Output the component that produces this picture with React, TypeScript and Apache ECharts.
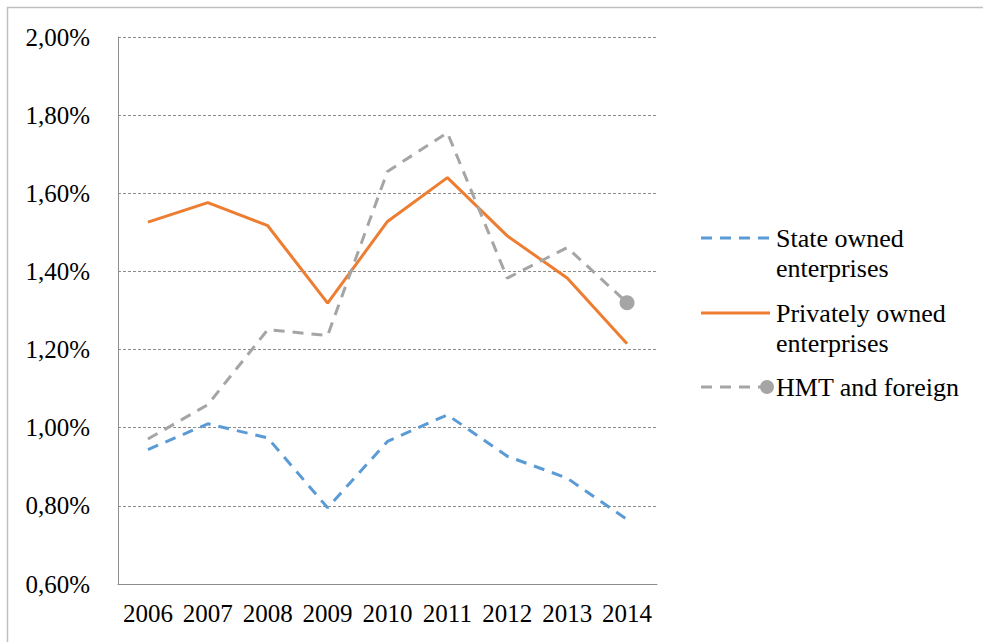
import React, { useEffect, useRef } from "react";
import * as echarts from "echarts";

const years = ["2006", "2007", "2008", "2009", "2010", "2011", "2012", "2013", "2014"];
const stateOwned = [0.944, 1.01, 0.974, 0.795, 0.965, 1.033, 0.927, 0.871, 0.765];
const privatelyOwned = [1.526, 1.576, 1.517, 1.319, 1.528, 1.64, 1.491, 1.383, 1.215];
const hmtForeign = [0.971, 1.059, 1.251, 1.236, 1.656, 1.755, 1.383, 1.461, 1.32];
const seriesNames = ["State owned\nenterprises", "Privately owned\nenterprises", "HMT and foreign"];

const BLUE = "#5B9BD5";
const ORANGE = "#ED7D31";
const GRAY = "#A5A5A5";
const FONT = "'Liberation Serif', 'Times New Roman', serif";
const FS = 25;
const LEGEND_FS = 26;

export default function App() {
  const ref = useRef<HTMLDivElement>(null);
  useEffect(() => {
    if (!ref.current) return;
    const chart = echarts.init(ref.current, null, { renderer: "svg" });
    const legendY = [238, 313, 387];
    const legendColors = [BLUE, ORANGE, GRAY];
    const legendGraphics: any[] = [];
    seriesNames.forEach((name, i) => {
      legendGraphics.push({
        type: "line",
        shape: { x1: 701, y1: legendY[i], x2: i === 2 ? 762 : 770, y2: legendY[i] },
        style: {
          stroke: legendColors[i],
          lineWidth: 3,
          lineDash: i === 1 ? null : [11, 8],
        },
      });
      if (i === 2) {
        legendGraphics.push({
          type: "circle",
          shape: { cx: 767, cy: legendY[i], r: 7 },
          style: { fill: GRAY },
        });
      }
      legendGraphics.push({
        type: "text",
        x: 776,
        y: legendY[i] - 15,
        style: {
          text: name,
          font: `${LEGEND_FS}px ${FONT}`,
          fill: "#000",
          lineHeight: 30,
          textVerticalAlign: "top",
        },
      });
    });
    const option: any = {
      animation: false,
      backgroundColor: "#fff",
      grid: { left: 118, right: 326, top: 37, bottom: 58 },
      xAxis: {
        type: "category",
        data: years,
        boundaryGap: true,
        axisLine: { lineStyle: { color: "#8C8C8C", width: 1 } },
        axisTick: { show: false },
        axisLabel: { color: "#000", fontSize: FS, fontFamily: FONT, margin: 17, interval: 0 },
      },
      yAxis: {
        type: "value",
        min: 0.6,
        max: 2.0,
        interval: 0.2,
        axisLine: { show: true, lineStyle: { color: "#8C8C8C", width: 1 } },
        axisTick: { show: false },
        axisLabel: {
          color: "#000",
          fontSize: FS,
          fontFamily: FONT,
          margin: 28,
          formatter: (v: number) => v.toFixed(2).replace(".", ",") + "%",
        },
        splitLine: { lineStyle: { color: "#8C8C8C", type: [3, 2], width: 1 } },
      },
      series: [
        {
          name: seriesNames[0],
          type: "line",
          data: stateOwned,
          symbol: "none",
          lineStyle: { color: BLUE, width: 3, type: [11, 8] },
          itemStyle: { color: BLUE },
        },
        {
          name: seriesNames[1],
          type: "line",
          data: privatelyOwned,
          symbol: "none",
          lineStyle: { color: ORANGE, width: 3 },
          itemStyle: { color: ORANGE },
        },
        {
          name: seriesNames[2],
          type: "line",
          data: hmtForeign.map((v, i) =>
            i === hmtForeign.length - 1
              ? { value: v, symbol: "circle", symbolSize: 15 }
              : { value: v, symbol: "none" }
          ),
          showAllSymbol: true,
          lineStyle: { color: GRAY, width: 3, type: [11, 8] },
          itemStyle: { color: GRAY },
        },
      ],
      graphic: [
        {
          type: "rect",
          shape: { x: 7.5, y: 7.5, width: 1100, height: 800 },
          style: { fill: "none", stroke: "#BFBFBF", lineWidth: 1.5 },
          silent: true,
        },
        ...legendGraphics,
      ],
    };
    chart.setOption(option);
    return () => chart.dispose();
  }, []);
  return (
    <div
      ref={ref}
      style={{ position: "absolute", left: 0, top: 0, width: 983, height: 642 }}
    />
  );
}
